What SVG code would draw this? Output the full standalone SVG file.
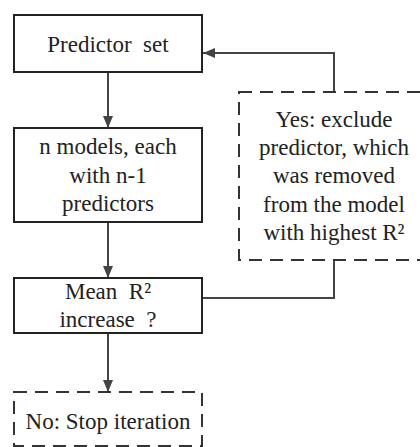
<svg xmlns="http://www.w3.org/2000/svg" width="420" height="447" viewBox="0 0 420 447">
<defs>
<marker id="arr" viewBox="0 0 12 10" refX="12" refY="5" markerWidth="12" markerHeight="10" markerUnits="userSpaceOnUse" orient="auto">
<path d="M0,0 L12,5 L0,10 Z" fill="#444"/>
</marker>
</defs>
<style>
.box{fill:#fff;stroke:#222;stroke-width:2}
.dash{fill:#fff;stroke:#333;stroke-width:2;stroke-dasharray:13 8}
.c{fill:none;stroke:#444;stroke-width:2}
</style>
<rect width="420" height="447" fill="#fff"/>
<g id="connectors">
<line class="c" x1="108" y1="72" x2="108" y2="128" marker-end="url(#arr)"/>
<line class="c" x1="108" y1="222" x2="108" y2="278" marker-end="url(#arr)"/>
<line class="c" x1="108" y1="333" x2="108" y2="392" marker-end="url(#arr)"/>
<polyline class="c" points="334,92 334,53 203,53" marker-end="url(#arr)"/>
<polyline class="c" points="202,298 334,298 334,260"/>
</g>
<g font-family="Times New Roman, Liberation Serif, serif" font-size="23" fill="#222" text-anchor="middle">
<g id="predictor-set">
<rect class="box" x="14" y="15" width="188" height="57"/>
<text x="108" y="52" xml:space="preserve">Predictor  set</text>
</g>
<g id="n-models">
<rect class="box" x="14" y="128" width="188" height="94"/>
<text x="108" y="154">n models, each</text>
<text x="108" y="183">with n-1</text>
<text x="108" y="211">predictors</text>
</g>
<g id="mean-r2">
<rect class="box" x="14" y="278" width="188" height="55"/>
<text x="108" y="299" xml:space="preserve">Mean  R²</text>
<text x="108" y="327" xml:space="preserve">increase  ?</text>
</g>
<g id="yes-box">
<rect class="dash" x="239" y="92" width="190" height="168"/>
<text x="334" y="127">Yes: exclude</text>
<text x="334" y="155">predictor, which</text>
<text x="334" y="183">was removed</text>
<text x="334" y="212">from the model</text>
<text x="334" y="240">with highest R²</text>
</g>
<g id="no-box">
<rect class="dash" x="14" y="392" width="188" height="54"/>
<text x="108" y="429">No: Stop iteration</text>
</g>
</g>
</svg>
